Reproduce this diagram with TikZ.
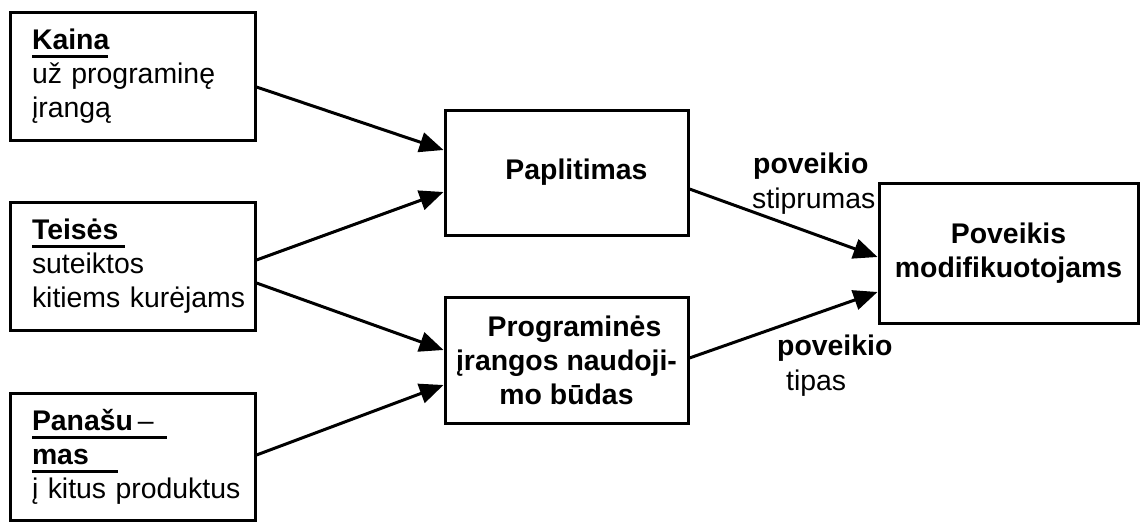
\documentclass[tikz,border=0pt]{standalone}
\usepackage{fontspec}
\setmainfont{Liberation Sans}
\usetikzlibrary{arrows.meta}
% thick underline of a given length under a heading word
\newcommand\ulbar[2]{\mbox{\rlap{\rule[-8.5pt]{#1}{3pt}}#2}}

\begin{document}
\begin{tikzpicture}[x=1pt,y=-1pt,
  every node/.style={font=\fontsize{28.4}{34}\selectfont},
  leftbox/.style={draw, line width=3pt, minimum width=245pt, minimum height=128pt,
    text width=201pt, inner xsep=22pt, inner ysep=0pt, align=left},
  midbox/.style={draw, line width=3pt, minimum width=243pt, minimum height=125pt,
    inner sep=0pt, align=center, font=\fontsize{28.4}{34}\selectfont\bfseries},
  flow/.style={line width=3pt, -{Triangle[length=24pt,width=20pt]}},
  lbl/.style={anchor=base west, inner sep=0pt}]

\useasboundingbox (0,0) rectangle (1141,522);

% factors on the left
\node[leftbox] (kaina) at (132.5,76)
  {\ulbar{76pt}{\textbf{Kaina}}\\ \mbox{už programinę}\\ \mbox{įrangą}};
\node[leftbox] (teises) at (132.5,266)
  {\ulbar{93pt}{\textbf{Teisės}}\\ \mbox{suteiktos}\\ \mbox{kitiems kurėjams}};
\node[leftbox, minimum height=127pt] (panas) at (132.5,456.5)
  {\ulbar{135pt}{\textbf{Panašu}\,–}\\ \ulbar{86pt}{\textbf{mas}}\\ \mbox{į kitus produktus}};

% intermediate properties
\node[midbox] (paplit) at (566.5,172.5) {\hspace*{20pt}Paplitimas};
\node[midbox, minimum height=126pt] (progr) at (566.5,360)
  {\hspace*{16pt}Programinės\\ įrangos naudoji-\\ mo būdas};

% outcome
\node[midbox, minimum width=259pt, minimum height=140pt] (poveik) at (1008.5,253)
  {Poveikis\\ modifikuotojams};

% influences
\draw[flow] ([yshift=-11pt]kaina.east) -- ([yshift=22.5pt]paplit.west);
\draw[flow] ([yshift=6pt]teises.east) -- ([yshift=-19.5pt]paplit.west);
\draw[flow] ([yshift=-17pt]teises.east) -- ([yshift=10pt]progr.west);
\draw[flow] ([yshift=1.5pt]panas.east) -- ([yshift=-25pt]progr.west);
\draw[flow] ([yshift=-16.5pt]paplit.east) -- ([yshift=-4pt]poveik.west);
\draw[flow] ([yshift=2pt]progr.east) -- ([yshift=-39pt]poveik.west);

% connector labels
\node[lbl, font=\fontsize{28.4}{34}\selectfont\bfseries] (l1a) at (753,173) {poveikio};
\node[lbl] (l1b) at (752,208) {stiprumas};
\node[lbl, font=\fontsize{28.4}{34}\selectfont\bfseries] (l2a) at (777,355) {poveikio};
\node[lbl] (l2b) at (786,390) {tipas};
\end{tikzpicture}
\end{document}
